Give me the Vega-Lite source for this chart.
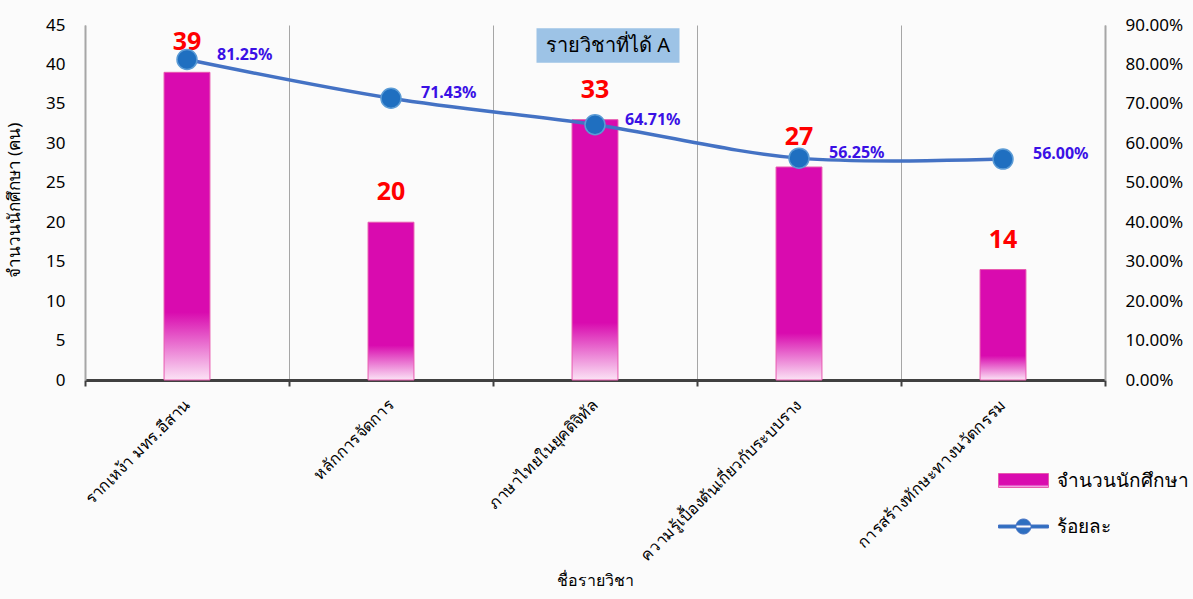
{
  "$schema": "https://vega.github.io/schema/vega-lite/v6.json",
  "width": 1020,
  "height": 355,
  "autosize": {"type": "none"},
  "padding": {"left": 85, "top": 25, "right": 88, "bottom": 219},
  "background": "#fbfbfb",
  "config": {
    "font": "Noto Sans",
    "view": {"stroke": null},
    "axisLeft": {
      "tickCount": 10, "labelOverlap": false, "labelBound": false, "labelFlush": false,
      "grid": false, "ticks": false, "labelFontSize": 17, "labelColor": "#000000", "labelPadding": 20,
      "domainColor": "#a6a6a6", "domainWidth": 2,
      "titleFontSize": 17, "titleFontWeight": "normal", "titleColor": "#000000", "titleX": -62, "titleY": 175
    },
    "axisRight": {
      "tickCount": 10, "labelOverlap": false, "labelBound": false, "labelFlush": false,
      "grid": false, "ticks": false, "labelFontSize": 17, "labelColor": "#000000", "labelPadding": 20,
      "domainColor": "#a6a6a6", "domainWidth": 2
    },
    "axisBottom": {
      "titleFontSize": 16, "titleFontWeight": "normal", "titleColor": "#000000",
      "titleX": 510, "titleY": 192,
      "labelAngle": -45, "labelAlign": "right", "labelBaseline": "middle",
      "labelFontSize": 16, "labelColor": "#000000", "labelPadding": 16, "labelLimit": 400,
      "tickBand": "extent", "grid": true, "gridColor": "#a6a6a6", "gridWidth": 1,
      "domainColor": "#404040", "domainWidth": 3, "tickColor": "#404040", "tickWidth": 2, "tickSize": 6
    }
  },
  "data": {
    "values": [
      {"subject": "รากเหง้า มทร.อีสาน", "count": 39, "pct": 0.8125},
      {"subject": "หลักการจัดการ", "count": 20, "pct": 0.7143},
      {"subject": "ภาษาไทยในยุคดิจิทัล", "count": 33, "pct": 0.6471},
      {"subject": "ความรู้เบื้องต้นเกี่ยวกับระบบราง", "count": 27, "pct": 0.5625},
      {"subject": "การสร้างทักษะทางนวัตกรรม", "count": 14, "pct": 0.56}
    ]
  },
  "layer": [
    {
      "layer": [
        {
          "mark": {
            "type": "bar",
            "width": {"band": 0.225},
            "strokeWidth": 1,
            "fill": {
              "gradient": "linear",
              "x1": 0, "y1": 0, "x2": 0, "y2": 1,
              "stops": [
                {"offset": 0, "color": "#D90BAF"},
                {"offset": 0.78, "color": "#D90BAF"},
                {"offset": 1, "color": "#FBE3F5"}
              ]
            }
          },
          "encoding": {
            "x": {
              "field": "subject", "type": "nominal", "sort": null,
              "scale": {"paddingInner": 0, "paddingOuter": 0, "domain": ["รากเหง้า มทร.อีสาน", "หลักการจัดการ", "ภาษาไทยในยุคดิจิทัล", "ความรู้เบื้องต้นเกี่ยวกับระบบราง", "การสร้างทักษะทางนวัตกรรม"]},
              "title": "ชื่อรายวิชา"
            },
            "y": {
              "field": "count", "type": "quantitative",
              "scale": {"domain": [0, 45], "nice": false},
              "title": "จำนวนนักศึกษา (คน)"
            },
            "stroke": {
              "datum": "จำนวนนักศึกษา",
              "scale": {"range": ["#E85AAF"]},
              "legend": {
                "title": null, "orient": "none", "legendX": 913, "legendY": 430,
                "symbolType": "M-1,-0.28H1V0.28H-1Z", "symbolSize": 2500,
                "symbolFillColor": "#D90BAF", "symbolStrokeWidth": 1,
                "labelFontSize": 19, "labelColor": "#000000", "labelOffset": 8
              }
            }
          }
        },
        {
          "mark": {"type": "text", "dy": -30, "fontSize": 25, "fontWeight": "bold", "color": "#FF0000"},
          "encoding": {
            "x": {"field": "subject", "type": "nominal", "sort": null, "title": "ชื่อรายวิชา"},
            "y": {"field": "count", "type": "quantitative", "title": "จำนวนนักศึกษา (คน)"},
            "text": {"field": "count", "type": "quantitative"}
          }
        },
        {
          "data": {"values": [{"t": "รายวิชาที่ได้  A"}]},
          "layer": [
            {
              "mark": {"type": "bar", "color": "#9DC3E6", "width": 143, "xOffset": 13},
              "encoding": {
                "x": {"datum": "ภาษาไทยในยุคดิจิทัล", "title": "ชื่อรายวิชา"},
                "y": {"datum": 40.2, "title": "จำนวนนักศึกษา (คน)"},
                "y2": {"datum": 44.6}
              }
            },
            {
              "mark": {"type": "text", "fontSize": 20, "color": "#000000", "xOffset": 13},
              "encoding": {
                "x": {"datum": "ภาษาไทยในยุคดิจิทัล", "title": "ชื่อรายวิชา"},
                "y": {"datum": 42.4, "title": "จำนวนนักศึกษา (คน)"},
                "text": {"field": "t"}
              }
            }
          ]
        }
      ]
    },
    {
      "layer": [
        {
          "mark": {"type": "line", "strokeWidth": 3.5, "interpolate": "catmull-rom"},
          "encoding": {
            "x": {"field": "subject", "type": "nominal", "sort": null, "title": "ชื่อรายวิชา"},
            "y": {
              "field": "pct", "type": "quantitative",
              "scale": {"domain": [0, 0.9], "nice": false},
              "axis": {"orient": "right", "title": null, "format": ".2%"}
            },
            "color": {
              "datum": "ร้อยละ",
              "scale": {"range": ["#4472C4"]},
              "legend": {
                "title": null, "orient": "none", "legendX": 913, "legendY": 476,
                "symbolType": "M-1,-0.06H1V0.06H-1Z M-0.3,0A0.3,0.3 0 1,0 0.3,0A0.3,0.3 0 1,0 -0.3,0Z",
                "symbolSize": 2500, "symbolFillColor": "#2E6FC0", "symbolStrokeColor": "#4472C4", "symbolStrokeWidth": 1,
                "labelFontSize": 19, "labelColor": "#000000", "labelOffset": 8
              }
            }
          }
        },
        {
          "mark": {"type": "point", "filled": true, "size": 400, "fill": "#1F6FC0", "stroke": "#5B9BD5", "strokeWidth": 1.5, "opacity": 1},
          "encoding": {
            "x": {"field": "subject", "type": "nominal", "sort": null, "title": "ชื่อรายวิชา"},
            "y": {"field": "pct", "type": "quantitative", "axis": {"orient": "right", "title": null, "format": ".2%"}}
          }
        },
        {
          "mark": {"type": "text", "align": "left", "dx": 30, "dy": -5, "fontSize": 16, "fontWeight": "bold", "color": "#3A10E5"},
          "encoding": {
            "x": {"field": "subject", "type": "nominal", "sort": null, "title": "ชื่อรายวิชา"},
            "y": {"field": "pct", "type": "quantitative", "axis": {"orient": "right", "title": null, "format": ".2%"}},
            "text": {"field": "pct", "type": "quantitative", "format": ".2%"}
          }
        }
      ]
    }
  ],
  "resolve": {"scale": {"y": "independent"}}
}
